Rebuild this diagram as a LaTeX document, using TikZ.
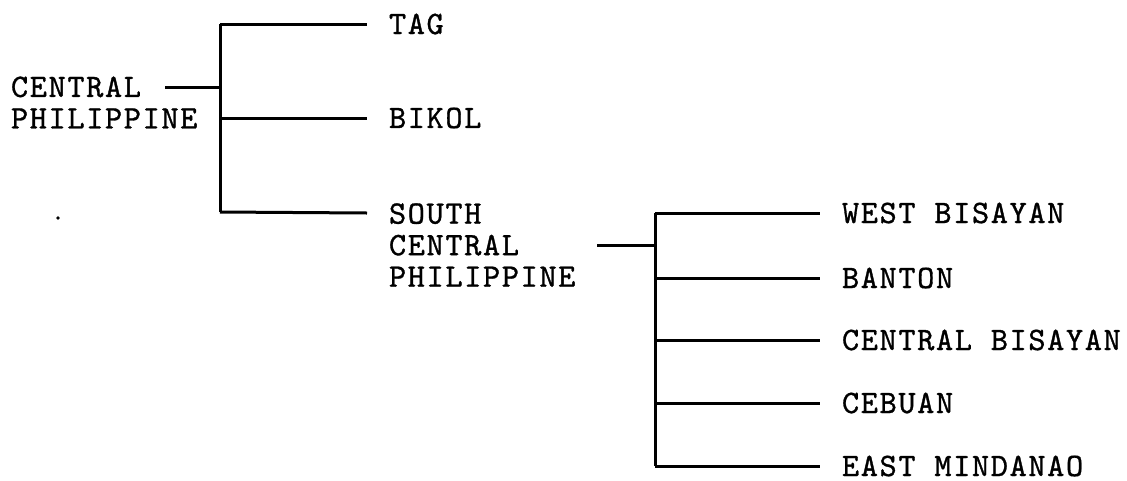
\documentclass[tikz,border=0pt]{standalone}
\usepackage{fontspec}
\newfontfamily\tw{lmmono10-regular.otf}[LetterSpace=5,FakeBold=1]
\begin{document}
\begin{tikzpicture}[x=1pt,y=-1pt,
  lbl/.style={inner sep=0pt,outer sep=0pt,anchor=west,align=left,
    font=\tw\fontsize{32.7}{31.5}\selectfont},
  ln/.style={line width=3pt,line cap=butt}]
\useasboundingbox (0,0) rectangle (1127,480);
% labels
\node[lbl] (cp) at (11,102.5) {CENTRAL\\PHILIPPINE};
\node[lbl] (tag) at (389,24) {TAG};
\node[lbl] (bik) at (389,118) {BIKOL};
\node[lbl] (sc) at (389,245) {SOUTH\\CENTRAL\\PHILIPPINE};
\node[lbl] (wb) at (842,213) {WEST BISAYAN};
\node[lbl] (ban) at (842,278) {BANTON};
\node[lbl] (cb) at (842,340) {CENTRAL BISAYAN};
\node[lbl] (ceb) at (842,403) {CEBUAN};
\node[lbl] (em) at (842,466) {EAST MINDANAO};
% first bracket
\coordinate (s1) at (165,87);
\coordinate (j1) at (220,87);
\coordinate (t1) at (220,24);
\coordinate (b1) at (220,212);
\draw[ln] (s1) -- (j1);
\draw[ln] (t1) -- (b1);
\draw[ln] (t1) -- ([xshift=-22pt]tag.west);
\draw[ln] (t1 |- bik.west) -- ([xshift=-22pt]bik.west);
\draw[ln] (b1) -- ([xshift=-22pt,yshift=32pt]sc.west);
% second bracket
\coordinate (s2) at (597,245);
\coordinate (j2) at (655,245);
\coordinate (t2) at (655,213);
\coordinate (b2) at (655,466);
\draw[ln] (s2) -- (j2);
\draw[ln] (t2) -- (b2);
\draw[ln] (t2) -- ([xshift=-22pt]wb.west);
\draw[ln] (t2 |- ban.west) -- ([xshift=-22pt]ban.west);
\draw[ln] (t2 |- cb.west) -- ([xshift=-22pt]cb.west);
\draw[ln] (t2 |- ceb.west) -- ([xshift=-22pt]ceb.west);
\draw[ln] (b2) -- ([xshift=-22pt]em.west);
% stray dot
\fill (58,218) circle (1.8);
\end{tikzpicture}
\end{document}
